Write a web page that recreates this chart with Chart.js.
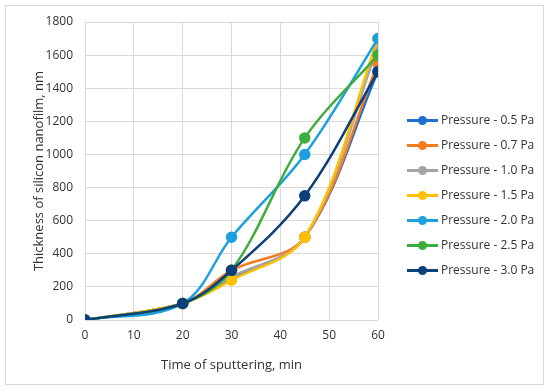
<!DOCTYPE html>
<html>
<head>
<meta charset="utf-8">
<script src="https://cdn.jsdelivr.net/npm/chart.js@4/dist/chart.umd.min.js"></script>
<style>
  html, body { margin:0; padding:0; background:#fff; }
  #wrap { position:relative; width:550px; height:391px; }
  #frame { position:absolute; left:5px; top:5px; width:539px; height:380px; border:1px solid #d9d9d9; box-sizing:border-box; }
  #legend { position:absolute; left:407px; top:0; font-family:"Open Sans", sans-serif; font-size:12px; color:#333; }
  .lg-item { position:absolute; left:0; height:20px; width:140px; }
  .lg-line { position:absolute; left:0; top:9px; width:31px; height:3px; }
  .lg-dot  { position:absolute; left:11px; top:6px; width:9px; height:9px; border-radius:50%; }
  .lg-text { position:absolute; left:34px; top:1px; white-space:nowrap; }
</style>
</head>
<body>
<div id="wrap">
  <div id="frame"></div>
  <canvas id="chart" width="550" height="391"></canvas>
  <div id="legend"></div>
</div>
<script>
// ── Data ─────────────────────────────────────────────
const times   = [0, 20, 30, 45, 60];   // min
const labels  = ['Pressure - 0.5 Pa', 'Pressure - 0.7 Pa', 'Pressure - 1.0 Pa',
                 'Pressure - 1.5 Pa', 'Pressure - 2.0 Pa', 'Pressure - 2.5 Pa', 'Pressure - 3.0 Pa'];
const p05 = [0, 100, 250, 500, 1500];
const p07 = [0, 100, 300, 500, 1550];
const p10 = [0, 100, 260, 500, 1650];
const p15 = [0, 100, 240, 500, 1700];
const p20 = [0, 100, 500, 1000, 1700];
const p25 = [0, 100, 300, 1100, 1600];
const p30 = [0, 100, 300, 750, 1500];
const colors = ['#1E6FCF', '#F47B20', '#A5A5A5', '#FFC000', '#1E9FE0', '#3DAE3D', '#0D3F78'];
const yTicks = [0, 200, 400, 600, 800, 1000, 1200, 1400, 1600, 1800];

const series = [p05, p07, p10, p15, p20, p25, p30];
const font = { family: '"Open Sans", sans-serif', size: 12 };

// later series drawn on top (like Excel)
const datasets = series.map((s, i) => ({
  label: labels[i],
  data: s.map((v, j) => ({ x: times[j], y: v })),
  borderColor: colors[i],
  backgroundColor: colors[i],
  borderWidth: 2.5,
  pointRadius: 4.5,
  pointHoverRadius: 4.5,
  tension: 0.35,
  order: series.length - i
}));

new Chart(document.getElementById('chart'), {
  type: 'line',
  data: { datasets },
  options: {
    responsive: false,
    animation: false,
    layout: { padding: { left: 27, right: 172, top: 22, bottom: 14 } },
    plugins: { legend: { display: false }, tooltip: { enabled: false } },
    scales: {
      x: {
        type: 'linear', min: 0, max: 60,
        grid: { color: '#d9d9d9', drawTicks: false },
        border: { display: false },
        ticks: { stepSize: 10, color: '#333', font, padding: 8, callback: v => String(v) },
        title: { display: true, text: 'Time of sputtering, min', color: '#333', font: { ...font, size: 13 }, padding: { top: 2 } },
        afterFit: s => { s.height = 57; }
      },
      y: {
        min: 0, max: 1800,
        grid: { color: '#d9d9d9', drawTicks: false },
        border: { display: false },
        afterBuildTicks: s => { s.ticks = yTicks.map(v => ({ value: v })); },
        ticks: { color: '#333', font, padding: 12, callback: v => String(v) },
        title: { display: true, text: 'Thickness of silicon nanofilm, nm', color: '#333', font: { ...font, size: 13 }, padding: { bottom: 0 } },
        afterFit: s => { s.width = 58; }
      }
    }
  }
});

// Legend (Excel style, line with dot)
const lg = document.getElementById('legend');
labels.forEach((t, i) => {
  lg.innerHTML += `<div class="lg-item" style="top:${110 + i * 25}px">
    <div class="lg-line" style="background:${colors[i]}"></div>
    <div class="lg-dot" style="background:${colors[i]}"></div>
    <div class="lg-text">${t}</div></div>`;
});
</script>
</body>
</html>
